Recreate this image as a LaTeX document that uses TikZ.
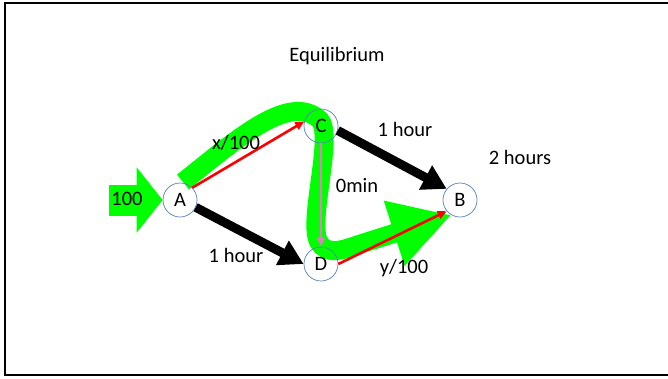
\documentclass[tikz,border=0pt]{standalone}
\usepackage{fontspec}
\setmainfont{Carlito}
\usepackage{tikz}
\usetikzlibrary{arrows.meta,backgrounds}
\definecolor{FlowGreen}{RGB}{0,255,0}
\definecolor{FlowRed}{RGB}{255,0,0}
\definecolor{FlowPink}{RGB}{232,120,200}
\definecolor{NodeRing}{RGB}{84,130,180}

\begin{document}
\begin{tikzpicture}[x=1pt,y=-1pt,font=\fontsize{20.5}{24}\selectfont,
    town/.style={circle, draw=NodeRing, line width=0.7pt, minimum size=34pt, inner sep=0pt},
    road/.style={-{Triangle[length=24pt,width=26pt]}, line width=9pt, black},
    share/.style={-{Triangle[length=9pt,width=8pt]}, line width=2.6pt, FlowRed},
    shortcut/.style={-{Triangle[length=9pt,width=7pt]}, line width=2.2pt, FlowPink},
    flow/.style={line width=19pt, FlowGreen},
    label/.style={inner sep=1pt}
  ]
    \useasboundingbox (0,0) rectangle (668,378);
    \draw[line width=2.5pt] (668,3) -- (5,3) -- (5,375) -- (668,375);
    \node[label] (title) at (337,56) {Equilibrium};
    \node[town] (A) at (180,200) {A};
    \node[town] (C) at (321,126) {C};
    \node[town] (D) at (321,264) {D};
    \node[town] (B) at (460,200) {B};
    \coordinate (src) at (109,200);
    \begin{scope}[on background layer]
      \draw[flow, -{Triangle[length=26pt,width=64pt]}, line width=31pt] (src) -- (A.west);
      \draw[flow, -{Triangle[length=60pt,width=64pt]}] (183,182) .. controls (238,138) and (290,92) .. (320,120) .. controls (332,134) and (314,200) .. (316,230) .. controls (317,250) and (330,254) .. (348,248) -- (B.240);
    \end{scope}
    \node[label] (inflow) at (127,199) {100};
    \draw[road] (A.-25) -- (D.west);
    \draw[road] (C.-15) -- (B.140);
    \draw[share] (A.45) -- (C.165);
    \draw[share] (D.east) -- (B.220);
    \draw[shortcut] (C.south) -- (D.north);
    \node[label] (xac) at (236,143) {x/100};
    \node[label] (tcb) at (405,129) {1 hour};
    \node[label] (tbig) at (520,157) {2 hours};
    \node[label] (tcd) at (357,186) {0min};
    \node[label] (tad) at (236,255) {1 hour};
    \node[label] (ydb) at (404,268) {y/100};
  \end{tikzpicture}
\end{document}
